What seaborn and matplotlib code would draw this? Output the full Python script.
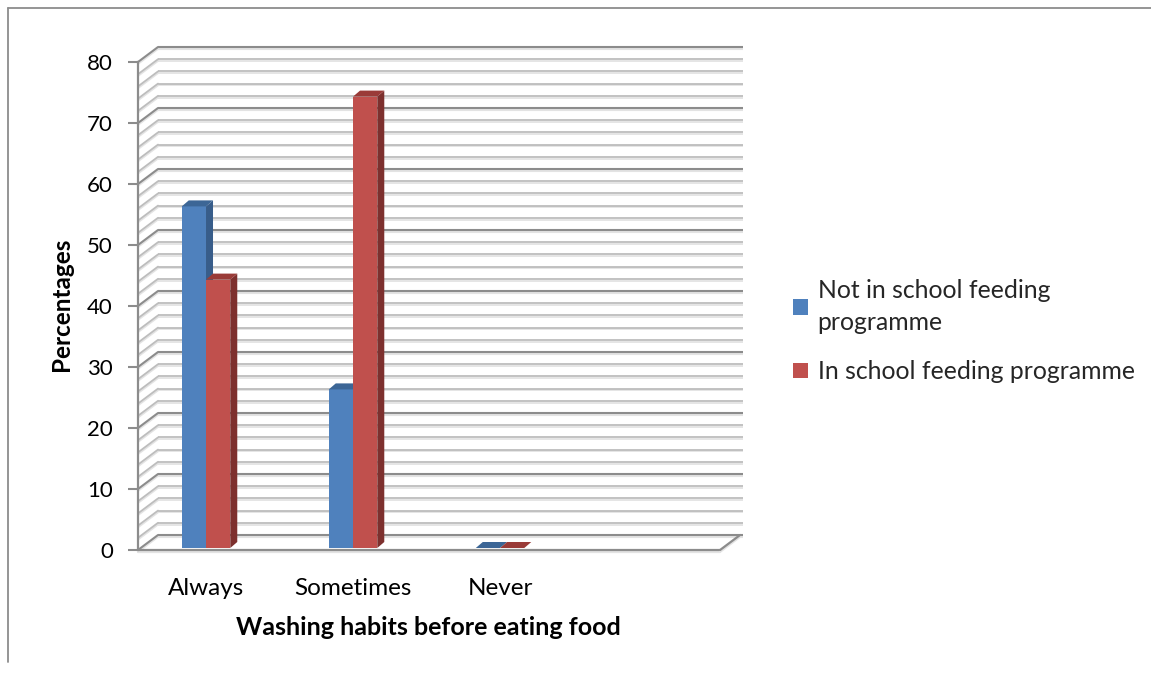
import numpy as np
import pandas as pd
import matplotlib
matplotlib.use("Agg")
import matplotlib.pyplot as plt
import matplotlib.patheffects as pe
from matplotlib.patches import Polygon
from matplotlib.lines import Line2D
from matplotlib.transforms import ScaledTranslation
import seaborn as sns

# ---- data ----
categories = ["Always", "Sometimes", "Never"]
not_in_programme = [56, 26, 0]
in_programme = [44, 74, 0]
series_names = ["Not in school feeding programme", "In school feeding programme"]
legend_labels = ["Not in school feeding\nprogramme", "In school feeding programme"]
y_ticks = [0, 10, 20, 30, 40, 50, 60, 70, 80]

df = pd.DataFrame({
    "habit": categories * 2,
    "pct": not_in_programme + in_programme,
    "group": [series_names[0]] * 3 + [series_names[1]] * 3,
})

front_cols = ["#4F81BD", "#C0504D"]
side_cols = ["#385D8A", "#7D302E"]
top_cols = ["#3C6696", "#9A3B38"]

sns.set_theme(style="white")
plt.rcParams["font.family"] = ["Lato", "DejaVu Sans"]

W, H = 1151, 675
fig = plt.figure(figsize=(W / 100, H / 100), dpi=100)

# axes region in pixels
px_left, px_right, px_top, px_bottom = 138, 743, 46, 550
ax = fig.add_axes([px_left / W, 1 - px_bottom / H, (px_right - px_left) / W, (px_bottom - px_top) / H])

sns.barplot(data=df, x="habit", y="pct", hue="group", order=categories,
            hue_order=series_names, palette=front_cols, saturation=1,
            width=0.33, ax=ax, legend=True, edgecolor="none", linewidth=0)

# scale calibration
xpx = 147.0   # pixels per category
ypx = 6.1     # pixels per percent
x_front0 = (138 - 206) / xpx
x_front1 = (720 - 206) / xpx
DX = 20 / xpx
DY = 15 / ypx
x_back1 = x_front1 + DX + 0.02
ax.set_xlim(x_front0, x_back1)
ax.set_ylim(0, 80 + (62 - 46) / ypx)

# gridlines on back wall and left wall
shadow = [pe.SimpleLineShadow(offset=(0, -1.3), shadow_color="#E3E3E3", alpha=1), pe.Normal()]
for v in range(0, 81, 2):
    major = v % 10 == 0
    col = "#8C8C8C" if major else "#BDBDBD"
    lw = 1.5 if major else 1.3
    ax.plot([x_front0 + DX, x_back1], [v + DY, v + DY], color=col, lw=lw,
            zorder=1, solid_capstyle="butt", path_effects=shadow, clip_on=False)
    ax.plot([x_front0, x_front0 + DX], [v, v + DY], color=col, lw=lw,
            zorder=1, path_effects=shadow, clip_on=False)

# floor front edge and right diagonal
ax.plot([x_front0, x_front1], [0, 0], color="#8C8C8C", lw=1.6, zorder=1.5,
        clip_on=False, path_effects=shadow)
ax.plot([x_front1, x_front1 + DX], [0, DY], color="#8C8C8C", lw=1.6, zorder=1.5,
        clip_on=False, path_effects=shadow)

# 3D faces for bars (bars sit slightly behind the front edge: 2px up)
lift = ax.transData + ScaledTranslation(0, 2 / 100, fig.dpi_scale_trans)
bdx = 7 / xpx
bdy = 6 / ypx
bars = [p for p in ax.patches if p.get_width() > 0]
n = len(categories)
for s in range(2):
    for i in range(n):
        p = bars[s * n + i]
        x0 = p.get_x()
        x1 = x0 + p.get_width()
        h = p.get_height()
        z = 3 + 0.2 * s
        p.set_zorder(z)
        p.set_transform(lift)
        side = Polygon([(x1, 0), (x1 + bdx, bdy), (x1 + bdx, h + bdy), (x1, h)],
                       closed=True, facecolor=side_cols[s], edgecolor="none", zorder=z + 0.05,
                       transform=lift)
        top = Polygon([(x0, h), (x1, h), (x1 + bdx, h + bdy), (x0 + bdx, h + bdy)],
                      closed=True, facecolor=top_cols[s], edgecolor="none", zorder=z + 0.1,
                      transform=lift)
        ax.add_patch(side)
        ax.add_patch(top)

# axes styling
for sp in ["top", "right", "bottom"]:
    ax.spines[sp].set_visible(False)
ax.spines["left"].set_bounds(0, 80)
ax.spines["left"].set_color("#8C8C8C")
ax.spines["left"].set_linewidth(1.6)
ax.spines["left"].set_zorder(2)
ax.set_yticks(y_ticks)
ax.set_yticklabels([str(t) for t in y_ticks])
ax.tick_params(axis="y", left=True, length=7, width=1.5, color="#8C8C8C",
               labelsize=16, pad=11, labelcolor="black")
ax.set_xticks(range(n))
ax.set_xticklabels(categories)
ax.tick_params(axis="x", bottom=False, labelsize=17.5, pad=14, labelcolor="black")
ax.set_xlabel("Washing habits before eating food", fontsize=18, fontweight="bold", color="black")
ax.xaxis.set_label_coords((428 - px_left) / (px_right - px_left), -(616 - px_bottom) / (px_bottom - px_top))
ax.set_ylabel("Percentages", fontsize=17.5, fontweight="bold", color="black")
ax.yaxis.set_label_coords(-(px_left - 73) / (px_right - px_left), 1 - (304 - px_top) / (px_bottom - px_top))

# legend
handles, _ = ax.get_legend_handles_labels()
leg = ax.legend(handles[:2], legend_labels, loc="upper left",
                bbox_to_anchor=(793 / W, 1 - 279 / H), bbox_transform=fig.transFigure,
                frameon=False, fontsize=17.8, handlelength=0.6, handleheight=0.6,
                handletextpad=0.4, labelspacing=1.08, borderpad=0, borderaxespad=0)
for t in leg.get_texts():
    t.set_linespacing(1.45)

# chart border
fig.add_artist(Line2D([8 / W, 1.0], [1 - 8 / H, 1 - 8 / H], transform=fig.transFigure,
                      color="#8C8C8C", lw=1.3))
fig.add_artist(Line2D([8 / W, 8 / W], [1 - 8 / H, 1 - 662 / H], transform=fig.transFigure,
                      color="#8C8C8C", lw=1.3))

fig.savefig("out.png", dpi=100, facecolor="white")
